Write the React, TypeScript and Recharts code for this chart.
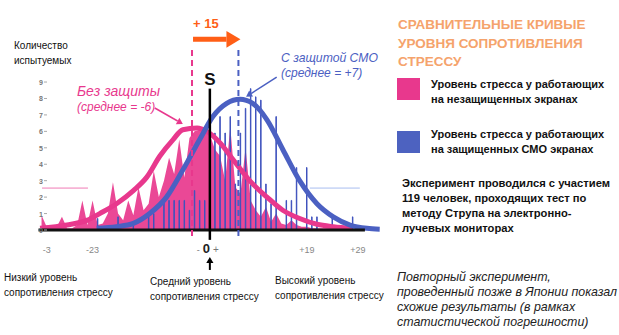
import React from 'react';
import { ComposedChart, Area, Bar, Line, XAxis, YAxis, ReferenceLine } from 'recharts';

// --- данные ---
const BINS = [
  -33, -32, -31, -30, -29, -28, -27, -26, -25, -24, -23, -22, -21, -20, -19, -18,
  -17, -16, -15, -14, -13, -12, -11, -10, -9, -8, -7, -6, -5, -4, -3, -2, -1, 0,
  1, 2, 3, 4, 5, 6, 7, 8, 9, 10, 11, 12, 13, 14, 15, 16, 17, 18, 19, 20, 21, 22,
  23, 24, 25, 26, 27, 28, 29, 30,
];
// без защиты (розовая область)
const PINK_COUNTS = [
  0.9, 0.2, 0.1, 0.2, 0.8, 0.1, 0.1, 0.3, 1.8, 0.3, 1.8, 0.3, 0.4, 1.0, 2.9, 1.0,
  0.6, 1.8, 0.9, 2.6, 1.2, 1.6, 3.6, 2.0, 3.0, 4.4, 3.4, 5.5, 3.2, 5.6, 6.0, 6.1, 6.0, 5.8,
  4.9, 4.5, 3.0, 6.3, 2.6, 2.2, 5.0, 1.8, 1.2, 0.8, 1.4, 0.5, 1.0, 0.4, 0.3, 0.6, 0.3, 0.2, 0.2, 0.1, 0.1, 0.1,
  0.1, 0.1, 0.1, 0.1, 0.1, 0.05, 0, 0,
];
// с защитой СМО (синие столбики)
const BLUE_COUNTS = [
  0, 0, 0, 0, 0, 0, 0, 0, 0, 0, 0, 0.7, 0, 0, 0, 0.8,
  0, 0, 0.3, 0, 0, 1.0, 1.0, 0, 1.8, 1.8, 1.8, 1.8, 1.8, 1.2, 2.4, 1.8, 1.8, 3.4,
  5.9, 6.9, 5.9, 6.9, 2.8, 5.9, 7.4, 8.6, 8.1, 7.9, 2.8, 1.6, 6.9, 0, 1.8, 1.8, 3.8, 0, 3.8, 0.8, 0.8, 0,
  0, 0.8, 0, 0, 0, 0.8, 0, 0,
];

const PINK_CURVE_X = [-33.3, -28, -24, -21.6, -18.3, -15, -12.4, -9.8, -7.2, -5.3, -2.5, -0.6, 2, 4.5, 7.8, 11.2, 14.3, 17.6, 21, 24.2, 28];
const PINK_CURVE_Y = [0.1, 0.3, 0.6, 1.0, 1.6, 2.4, 3.2, 4.5, 5.5, 6.1, 6.2, 6.0, 5.3, 4.3, 3.0, 2.0, 1.2, 0.7, 0.35, 0.2, 0.1];
const BLUE_CURVE_X = [-22.2, -18.3, -15, -11.8, -8.5, -5.3, -2, 0.6, 3.3, 5.9, 8.4, 11.2, 14.3, 17.6, 21, 24.2, 27.5, 30.8, 33.3];
const BLUE_CURVE_Y = [0.1, 0.2, 0.4, 1.0, 2.0, 3.65, 5.5, 6.9, 7.7, 7.95, 7.7, 6.7, 4.9, 3.0, 1.6, 0.8, 0.3, 0.1, 0.05];

const X_TICKS = [-32, -23, 0, 19, 29];
const X_TICK_LABELS = ['-3', '-23', '0', '+19', '+29'];
const Y_TICKS = [0, 1, 2, 3, 4, 5, 6, 7, 8, 9];

const PINK_MEAN_X = -3.5;
const BLUE_MEAN_X = 5.6;

const PINK = '#E8388D';
const BLUE = '#4B60C2';
const ORANGE = '#FF5E16';

const bins = BINS.map((x, i) => ({ x, pink: PINK_COUNTS[i], blue: BLUE_COUNTS[i] }));
const pinkCurve = PINK_CURVE_X.map((x, i) => ({ x, v: PINK_CURVE_Y[i] }));
const blueCurve = BLUE_CURVE_X.map((x, i) => ({ x, v: BLUE_CURVE_Y[i] }));

const FONT = '"Liberation Sans", Arial, sans-serif';

const XTick = (props: any) => {
  const { x, y, index } = props;
  const label = X_TICK_LABELS[index];
  if (label === '0') {
    return (
      <text x={x} y={y + 15} textAnchor="middle" fontFamily={FONT}>
        <tspan fontSize={9} fill="#777" dx={-2}>-</tspan>
        <tspan fontSize={13} fontWeight="bold" fill="#222" dx={3}>0</tspan>
        <tspan fontSize={10} fill="#777" dx={3}>+</tspan>
      </text>
    );
  }
  return (
    <text x={x} y={y + 15} textAnchor="middle" fontSize={9} fill="#888" fontFamily={FONT}>
      {label}
    </text>
  );
};

const YTick = (props: any) => {
  const { x, y, payload } = props;
  return (
    <g>
      <text x={x + 2} y={y + 3} textAnchor="middle" fontSize={7} fontWeight="bold" fill="#777" fontFamily={FONT}>
        {payload.value}
      </text>
      <line x1={x + 5} x2={x + 8} y1={y} y2={y} stroke="#aaa" strokeWidth={1} />
    </g>
  );
};

// стрелка: линия + треугольник
const arrowShape = (color: string, width: number, head: number) => (p: any) => {
  const { x1, y1, x2, y2 } = p;
  const ang = Math.atan2(y2 - y1, x2 - x1);
  const bx = x2 - head * Math.cos(ang);
  const by = y2 - head * Math.sin(ang);
  const hw = head * 0.6;
  const px = -Math.sin(ang) * hw;
  const py = Math.cos(ang) * hw;
  return (
    <g>
      <line x1={x1} y1={y1} x2={bx} y2={by} stroke={color} strokeWidth={width} />
      <polygon points={`${x2},${y2} ${bx + px},${by + py} ${bx - px},${by - py}`} fill={color} />
    </g>
  );
};

const abs = (left: number, top: number, extra: React.CSSProperties = {}): React.CSSProperties => ({
  position: 'absolute',
  left,
  top,
  whiteSpace: 'nowrap',
  ...extra,
});

export default function App() {
  return (
    <div style={{ position: 'absolute', left: 0, top: 0, width: 619, height: 335, background: '#fff', fontFamily: FONT, overflow: 'hidden' }}>
      <div style={{ position: 'absolute', left: 0, top: 0 }}>
        <ComposedChart width={619} height={335} data={bins} margin={{ top: 65.6, right: 237, bottom: 75, left: 38 }}>
          <XAxis
            dataKey="x"
            type="number"
            domain={[-33.5, 33.75]}
            ticks={X_TICKS}
            tick={<XTick />}
            axisLine={false}
            tickLine={false}
            height={30}
            allowDataOverflow
            interval={0}
          />
          <YAxis
            type="number"
            domain={[0, 10]}
            ticks={Y_TICKS}
            tick={<YTick />}
            axisLine={false}
            tickLine={false}
            tickSize={0}
            tickMargin={0}
            width={1}
            interval={0}
          />
          <Area type="linear" dataKey="pink" fill={PINK} fillOpacity={0.92} stroke="none" isAnimationActive={false} />
          <Bar dataKey="blue" barSize={3.5} fill="#6b7dd6" fillOpacity={0.9} stroke="#3f52bd" strokeWidth={1} isAnimationActive={false} />

          <ReferenceLine segment={[{ x: -32.9, y: 2.55 }, { x: -23.9, y: 2.55 }]} stroke="#f07ab5" strokeWidth={1} ifOverflow="visible" />
          <ReferenceLine segment={[{ x: 19.6, y: 2.55 }, { x: 29.4, y: 2.55 }]} stroke="#a9bdf0" strokeWidth={1} ifOverflow="visible" />

          <Line data={pinkCurve} dataKey="v" type="monotone" stroke={PINK} strokeWidth={5} dot={false} isAnimationActive={false} />
          <Line data={blueCurve} dataKey="v" type="monotone" stroke={BLUE} strokeWidth={5} dot={false} isAnimationActive={false} />

          {/* ось X */}
          <ReferenceLine segment={[{ x: -33.6, y: 0 }, { x: 30.4, y: 0 }]} stroke="#111" strokeWidth={3} ifOverflow="visible" />

          {/* средние */}
          <ReferenceLine segment={[{ x: PINK_MEAN_X, y: 10.95 }, { x: PINK_MEAN_X, y: -0.6 }]} stroke={PINK} strokeWidth={2} strokeDasharray="6 4" ifOverflow="visible" />
          <ReferenceLine segment={[{ x: BLUE_MEAN_X, y: 10.95 }, { x: BLUE_MEAN_X, y: -0.6 }]} stroke={BLUE} strokeWidth={2} strokeDasharray="6 4" ifOverflow="visible" />

          {/* линия S */}
          <ReferenceLine
            segment={[{ x: 0, y: 8.6 }, { x: 0, y: -0.6 }]}
            stroke="#000"
            strokeWidth={2.5}
            ifOverflow="visible"
            label={{ value: 'S', position: 'top', fontSize: 17, fontWeight: 'bold', fill: '#111', offset: 4 }}
          />
          <ReferenceLine segment={[{ x: 0, y: -2.43 }, { x: 0, y: -1.64 }]} shape={arrowShape('#000', 2, 6)} ifOverflow="visible" />

          {/* сдвиг +15 */}
          <ReferenceLine segment={[{ x: -3.3, y: 11.6 }, { x: 6.0, y: 11.6 }]} shape={arrowShape(ORANGE, 5, 14)} ifOverflow="visible" />

          {/* указатели подписей */}
          <ReferenceLine segment={[{ x: -10.8, y: 7.42 }, { x: -5.3, y: 6.45 }]} shape={arrowShape(PINK, 1.5, 6)} ifOverflow="visible" />
          <ReferenceLine segment={[{ x: 13.1, y: 9.3 }, { x: 7.1, y: 8.1 }]} shape={arrowShape(BLUE, 1.5, 6)} ifOverflow="visible" />
        </ComposedChart>
      </div>

      <div style={abs(193, 16, { color: ORANGE, fontSize: 13, fontWeight: 'bold' })}>+ 15</div>

      <div style={abs(14, 37.5, { fontSize: 10, lineHeight: '15px', color: '#111' })}>
        Количество<br />испытуемых
      </div>

      <div style={abs(77, 84, { lineHeight: '13.5px', color: PINK, fontStyle: 'italic' })}>
        <span style={{ fontSize: 14 }}>Без защиты</span><br />
        <span style={{ fontSize: 12 }}>(среднее = -6)</span>
      </div>
      <div style={abs(281, 49.5, { lineHeight: '13.5px', color: BLUE, fontStyle: 'italic' })}>
        <span style={{ fontSize: 12.2 }}>С защитой СМО</span><br />
        <span style={{ fontSize: 12 }}>(среднее = +7)</span>
      </div>

      <div style={abs(4, 270, { fontSize: 10, lineHeight: '15px', color: '#111' })}>
        Низкий уровень<br />сопротивления стрессу
      </div>
      <div style={abs(150, 274, { fontSize: 10, lineHeight: '15px', color: '#111' })}>
        Средний уровень<br />сопротивления стрессу
      </div>
      <div style={abs(275, 273, { fontSize: 10, lineHeight: '15px', color: '#111' })}>
        Высокий уровень<br />сопротивления стрессу
      </div>

      <div style={abs(398, 16, { fontSize: 13.5, lineHeight: '18.5px', color: '#F5A36C', fontWeight: 'bold' })}>
        СРАВНИТЕЛЬНЫЕ КРИВЫЕ<br />УРОВНЯ СОПРОТИВЛЕНИЯ<br />СТРЕССУ
      </div>

      <div style={abs(397, 78, { width: 23, height: 22, background: PINK })} />
      <div style={abs(431, 77, { fontSize: 11, lineHeight: '14.5px', fontWeight: 'bold', color: '#111' })}>
        Уровень стресса у работающих<br />на незащищенных экранах
      </div>
      <div style={abs(397, 131, { width: 23, height: 22, background: '#4D62C0' })} />
      <div style={abs(431, 127, { fontSize: 11, lineHeight: '14.5px', fontWeight: 'bold', color: '#111' })}>
        Уровень стресса у работающих<br />на защищенных СМО экранах
      </div>

      <div style={abs(402, 175.5, { fontSize: 11.2, lineHeight: '15px', fontWeight: 'bold', color: '#111' })}>
        Эксперимент проводился с участием<br />119 человек, проходящих тест по<br />методу Струпа на электронно-<br />лучевых мониторах
      </div>

      <div style={abs(397, 269.5, { fontSize: 12.4, lineHeight: '15px', fontStyle: 'italic', color: '#222' })}>
        Повторный эксперимент,<br />проведенный позже в Японии показал<br />схожие результаты (в рамках<br />статистической погрешности)
      </div>
    </div>
  );
}
